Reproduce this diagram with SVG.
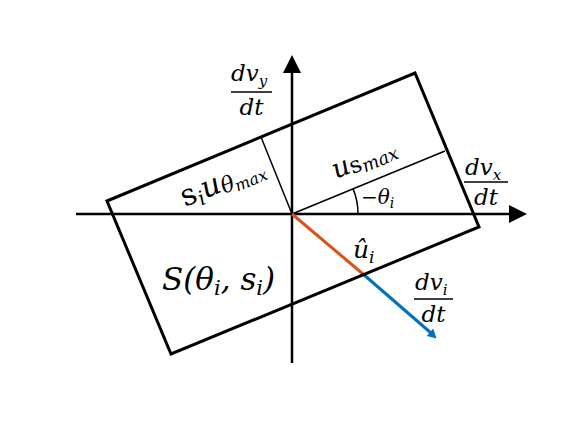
<svg xmlns="http://www.w3.org/2000/svg" width="581" height="436" viewBox="0 0 581 436">
<style>
.ax{stroke:#000;stroke-width:2.5;fill:none}
.box{stroke:#000;stroke-width:3;fill:none;stroke-linejoin:miter}
.thin{stroke:#000;stroke-width:1.5;fill:none}
.m{font-family:'DejaVu Serif','Liberation Serif',serif;font-style:italic;fill:#000}
.r{font-style:normal}
</style>
<rect width="581" height="436" fill="#fff"/>
<g id="connectors">
<line class="ax" x1="76" y1="214" x2="512" y2="214"/>
<polygon points="527,214 509,205 509,223" fill="#000"/>
<line class="ax" x1="292" y1="363" x2="292" y2="70"/>
<polygon points="292,55 283,73 301,73" fill="#000"/>
<line class="thin" x1="292" y1="214" x2="445" y2="151"/>
<line class="thin" x1="292" y1="214" x2="261" y2="137"/>
<path class="thin" d="M358,214 A66,66 0 0 0 353,188.6" stroke-width="1.2"/>
<line x1="292" y1="214" x2="363" y2="274" stroke="#D95319" stroke-width="3"/>
<line x1="363" y1="274" x2="431" y2="333" stroke="#0072BD" stroke-width="3"/>
<polygon points="436.5,338.5 426.8,335.9 433.2,328.5" fill="#0072BD"/>
</g>
<g id="region">
<polygon class="box" points="107,201 415,73 479,227 171,354"/>
</g>
<g id="label-dvy">
<text class="m" x="231" y="81" font-size="23">dv<tspan font-size="15" dy="5">y</tspan></text>
<line x1="231" y1="92" x2="272" y2="92" stroke="#000" stroke-width="1.4"/>
<text class="m" x="251.5" y="115" font-size="23" text-anchor="middle">dt</text>
</g>
<g id="label-dvx">
<text class="m" x="465" y="175" font-size="23">dv<tspan font-size="15" dy="5">x</tspan></text>
<line x1="464" y1="182" x2="508" y2="182" stroke="#000" stroke-width="1.4"/>
<text class="m" x="486" y="205" font-size="23" text-anchor="middle">dt</text>
</g>
<g id="label-dvi">
<text class="m" x="415" y="290" font-size="23">dv<tspan font-size="15" dy="5">i</tspan></text>
<line x1="414" y1="299" x2="453" y2="299" stroke="#000" stroke-width="1.4"/>
<text class="m" x="433.5" y="322" font-size="23" text-anchor="middle">dt</text>
</g>
<g id="label-S">
<text class="m" x="162" y="290" font-size="31">S(θ<tspan font-size="21" dy="5">i</tspan><tspan dy="-5">, s</tspan><tspan font-size="21" dy="5">i</tspan><tspan dy="-5">)</tspan></text>
</g>
<g id="label-uhat">
<text class="m" x="353" y="258" font-size="25">û<tspan font-size="17" dy="5">i</tspan></text>
</g>
<g id="label-theta">
<text class="m" x="361" y="204" font-size="20">−θ<tspan font-size="14" dy="4">i</tspan></text>
</g>
<g id="label-us">
<text class="m" transform="translate(336,179) rotate(-22.5)" font-size="27">u<tspan class="r" font-size="23" dy="2">s</tspan><tspan font-size="18" dy="3">max</tspan></text>
</g>
<g id="label-ut">
<text class="m" transform="translate(185,207) rotate(-22.5)" font-size="30"><tspan class="r">s</tspan><tspan font-size="20" dy="5">i</tspan><tspan dy="-5">u</tspan><tspan font-size="22" dy="3">θ</tspan><tspan font-size="16" dy="3">max</tspan></text>
</g>
</svg>
